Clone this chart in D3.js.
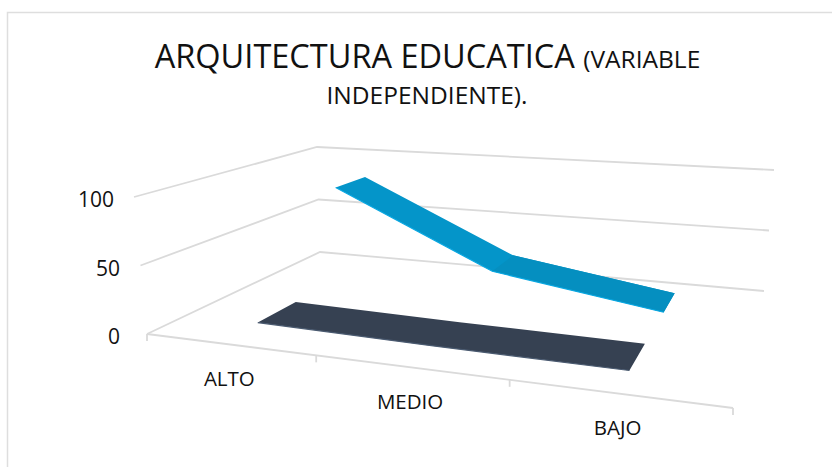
<!DOCTYPE html>
<html><head><meta charset="utf-8">
<script src="https://cdn.jsdelivr.net/npm/d3@7"></script>
<style>html,body{margin:0;padding:0;background:#fff}svg{display:block}text{font-family:"Open Sans",sans-serif;fill:#111}</style>
</head><body><div id="c"></div>
<script>
const categories = ["ALTO","MEDIO","BAJO"];
const seriesNames = ["low","high"];
const seriesLow = [4,2,1];
const seriesHigh = [80,20,0];
const valueTicks = [0,50,100];
const width=832,height=467;

const svg=d3.select("#c").append("svg").attr("width",width).attr("height",height);
// chart frame
svg.append("path").attr("d","M7.5,467V12.5H832").attr("fill","none").attr("stroke","#dedede").attr("stroke-width",1.5);

// perspective box
function homography(p00,p10,p11,p01){
  const dx1=p10[0]-p11[0],dx2=p01[0]-p11[0],sx=p00[0]-p10[0]+p11[0]-p01[0];
  const dy1=p10[1]-p11[1],dy2=p01[1]-p11[1],sy=p00[1]-p10[1]+p11[1]-p01[1];
  const det=dx1*dy2-dx2*dy1;
  const g=(sx*dy2-dx2*sy)/det,h=(dx1*sy-sx*dy1)/det;
  const a=p10[0]-p00[0]+g*p10[0],b=p01[0]-p00[0]+h*p01[0];
  const d=p10[1]-p00[1]+g*p10[1],e=p01[1]-p00[1]+h*p01[1];
  return (u,v)=>{const w=g*u+h*v+1;return [(a*u+b*v+p00[0])/w,(d*u+e*v+p00[1])/w];};
}
const floor=homography([147,334],[733,408],[764,291],[320,252]);
const ceil=homography([134,197],[748,254],[774,170],[317,147]);
const x=d3.scalePoint().domain(categories).range([0,1]).padding(0.5);
const z=d3.scaleBand().domain(seriesNames).range([0,1.031]).paddingInner(0.592).paddingOuter(0.2835);
const y=d3.scaleLinear().domain([0,100]).range([0,1]);
const project=(u,v,val)=>{const f=floor(u,v),c=ceil(u,v),t=y(val);return [f[0]+(c[0]-f[0])*t,f[1]+(c[1]-f[1])*t];};
const line=d3.line();
const gridColor="#dadada",gridWidth=1.8;

// gridlines
valueTicks.forEach(t=>{
  svg.append("path").attr("d",line([project(0,0,t),project(0,1,t),project(1,1,t)]))
    .attr("fill","none").attr("stroke",gridColor).attr("stroke-width",gridWidth);
});
svg.append("path").attr("d",line([project(0,0,0),project(1,0,0)])).attr("fill","none").attr("stroke",gridColor).attr("stroke-width",gridWidth);
[0,1/3,2/3,1].forEach(u=>{
  const p=floor(u,0);
  svg.append("path").attr("d",line([p,[p[0],p[1]+7]])).attr("fill","none").attr("stroke",gridColor).attr("stroke-width",gridWidth);
});

// ribbons
function ribbon(name,vals,fills,edge){
  const v0=z(name),v1=v0+z.bandwidth();
  const front=vals.map((val,i)=>project(x(categories[i]),v0,val));
  const back=vals.map((val,i)=>project(x(categories[i]),v1,val));
  svg.append("path").attr("d",line(front.concat(back.slice().reverse()))+"Z").attr("fill",fills[0]);
  for(let i=1;i<vals.length;i++){
    if(fills[i-1]===fills[0])continue;
    svg.append("path").attr("d",line([front[i-1],back[i-1],back[i],front[i]])+"Z").attr("fill",fills[i-1]);
  }
  svg.append("path").attr("d",line(front)).attr("fill","none").attr("stroke",edge).attr("stroke-width",1.2);
}
ribbon("low",seriesLow,["#364152","#364152"],"#4a5a70");
ribbon("high",seriesHigh,["#0495c9","#058fc0"],"#0aa8e2");

// value labels
const labelRight=[120,120,114];
valueTicks.forEach((t,i)=>{
  svg.append("text").attr("x",labelRight[i]).attr("y",project(0,0,t)[1]+10)
    .attr("text-anchor","end").attr("font-size",21).text(t);
});
// category labels
categories.forEach((c)=>{
  const p=floor(x(c),0);
  svg.append("text").attr("x",p[0]+0.5).attr("y",p[1]+41.5).attr("text-anchor","middle").attr("font-size",20.5).text(c);
});

// title
const t1=svg.append("text").attr("x",427.5).attr("y",67.5).attr("text-anchor","middle").attr("font-size",32.5);
t1.append("tspan").text("ARQUITECTURA EDUCATICA ");
t1.append("tspan").attr("font-size",24.5).text("(VARIABLE");
svg.append("text").attr("x",427).attr("y",104).attr("text-anchor","middle").attr("font-size",24.5).text("INDEPENDIENTE).");
</script></body></html>
